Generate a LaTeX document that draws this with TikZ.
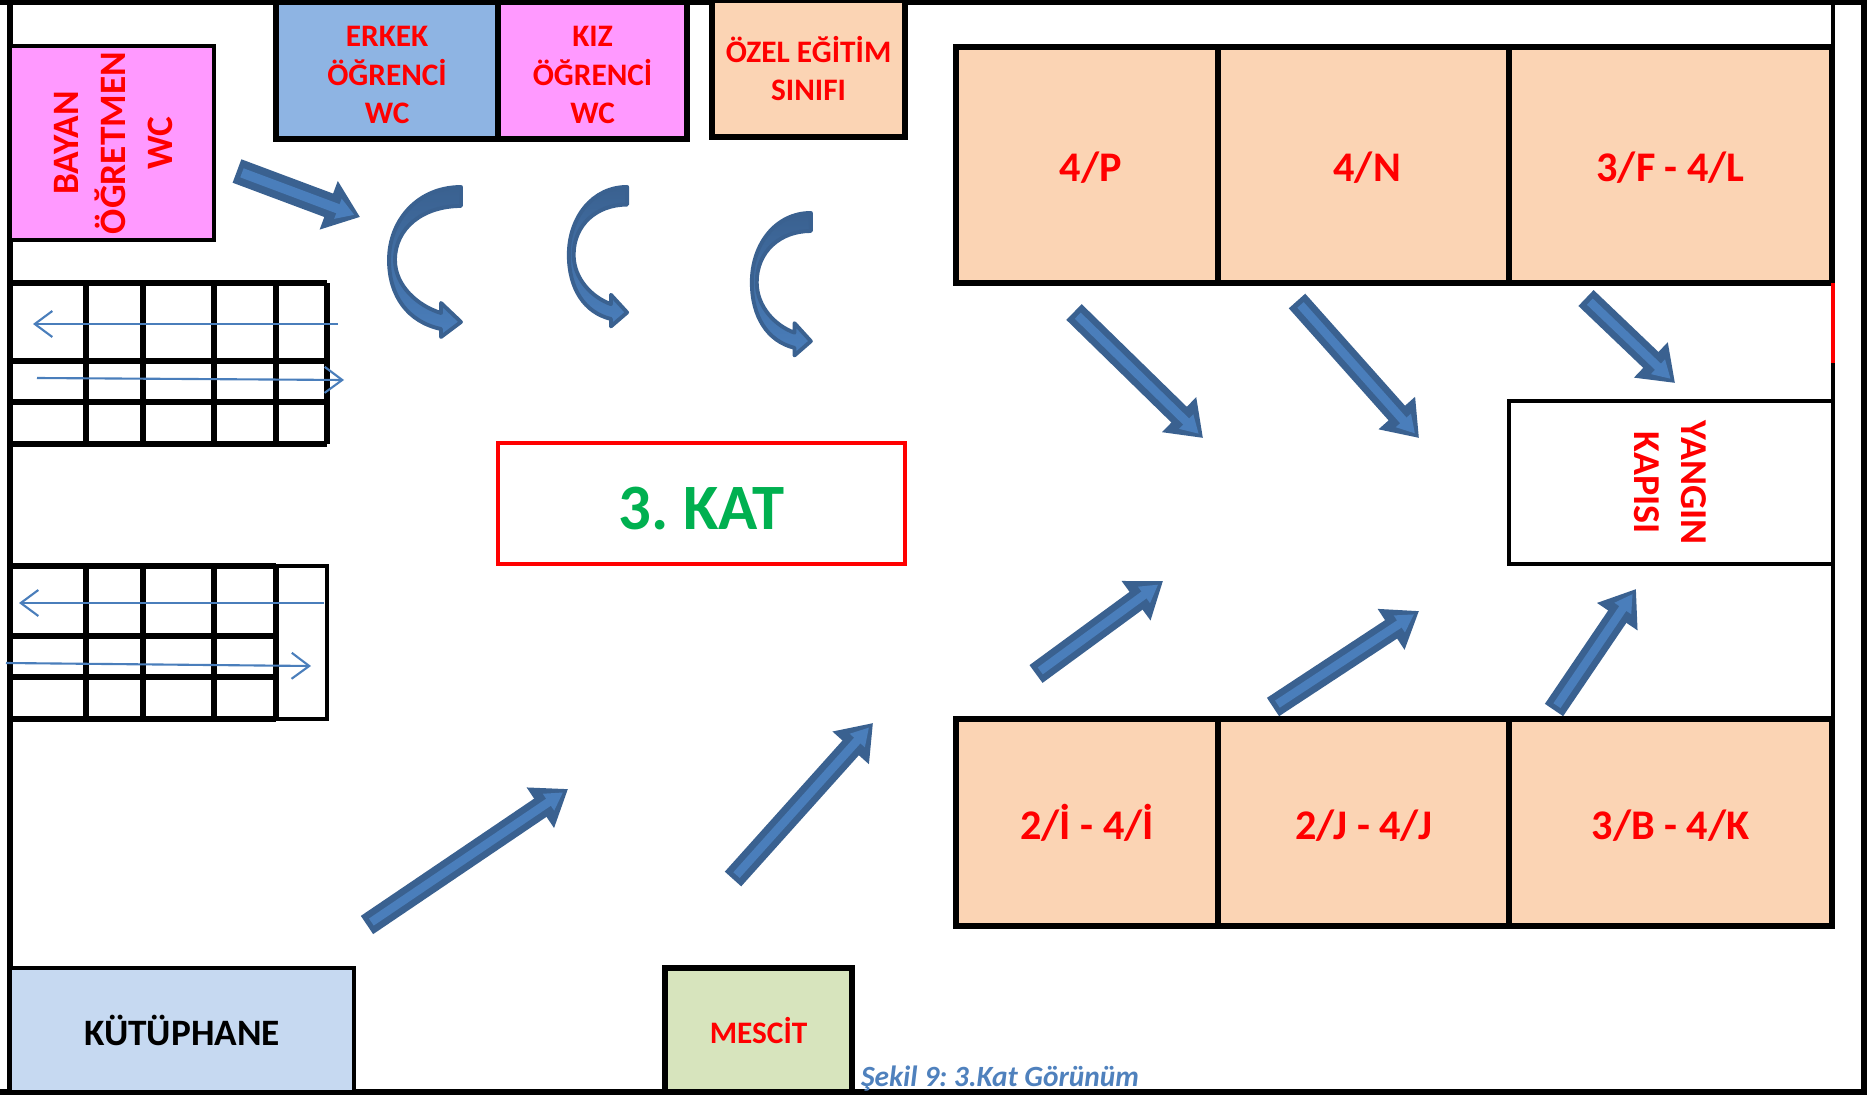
\documentclass[tikz,border=0pt]{standalone}
\usepackage{fontspec}
\setmainfont{Carlito}
\frenchspacing
\usetikzlibrary{arrows.meta,calc}

\definecolor{peach}{HTML}{FBD4B4}
\definecolor{pinkwc}{HTML}{FF99FF}
\definecolor{bluewc}{HTML}{8EB4E3}
\definecolor{libblue}{HTML}{C6D9F1}
\definecolor{prayergreen}{HTML}{D7E4BD}
\definecolor{arrowdark}{HTML}{3A6190}
\definecolor{arrowfill}{HTML}{4A7EBB}
\definecolor{kattext}{HTML}{00B050}
\definecolor{captiontext}{HTML}{4F81BD}

% Thick block arrow: width of shaft, start, tip
\newcommand{\blockarrow}[3][22]{
    \draw[line width=#1*0.2845pt, draw=arrowdark, -{Triangle[length=9.5pt, width=#1*0.2845pt+7pt]}] #2 -- #3;
    \draw[line width=#1*0.11pt, draw=arrowfill, shorten <=1.5pt, shorten >=1.7pt, -{Triangle[length=5pt, width=#1*0.11pt+3pt]}] #2 -- #3;
}
% U-turn arrow: left, top, xscale, yscale
\newcommand{\turnarrow}[4]{
    \begin{scope}[shift={(#1,#2)}, xscale=#3, yscale=#4]
        \draw[line width=1.1pt, line join=round, draw=arrowdark, top color=arrowdark, bottom color=arrowfill]
            (73,1) .. controls (30,1) and (1,34) .. (1,74)
            .. controls (1,110) and (20,136) .. (53,143)
            -- (53,151) -- (73,136) -- (53,117) -- (53,127)
            .. controls (30,120) and (7,100) .. (7,74)
            .. controls (7,42) and (35,20) .. (73,20) -- cycle;
    \end{scope}
}

\begin{document}
\begin{tikzpicture}[x=0.01cm, y=-0.01cm]
    \tikzset{
        room/.style={
            draw=black,
            line width=1.7pt,
            inner sep=0pt,
            outer sep=0pt,
            anchor=north west,
            text=red,
            align=center,
            font=\fontsize{12}{15}\selectfont\bfseries
        },
        smallroom/.style={
            room,
            font=\fontsize{8.9}{10.9}\selectfont\bfseries
        },
        textdrop/.style={
            execute at begin node={\rule{0pt}{#1}}
        },
        wall/.style={
            line width=1.7pt
        },
        stairline/.style={
            line width=1.7pt
        },
        flow/.style={
            draw=arrowfill,
            line width=0.6pt,
            -{Straight Barb[length=5pt, width=7.4pt]}
        }
    }
    \useasboundingbox (0,0) rectangle (1867,1094);

    % Outer walls
    \draw[wall] (10,0) -- (10,1094);
    \draw[wall] (0,2) -- (1867,2);
    \draw[wall] (0,1092) -- (1867,1092);
    \draw[wall] (1864,0) -- (1864,1094);
    \draw[line width=1.1pt] (1833,0) -- (1833,719);

    % Wash rooms and special class
    \node[smallroom, fill=pinkwc, line width=1pt, minimum width=2.04cm, minimum height=1.94cm,
        font=\fontsize{10.6}{13.3}\selectfont\bfseries] (bayan) at (10,46) {\hspace{2.4pt}\rotatebox{90}{\begin{tabular}{@{}c@{}}BAYAN\\ÖĞRETMEN\\WC\end{tabular}}};
    \node[smallroom, fill=bluewc, minimum width=2.22cm, minimum height=1.37cm] (erkek) at (276,2) {\rule{0pt}{0.95em}ERKEK\\ÖĞRENCİ\\WC};
    \node[smallroom, fill=pinkwc, minimum width=1.89cm, minimum height=1.37cm] (kiz) at (498,2) {\rule{0pt}{0.95em}KIZ\\ÖĞRENCİ\\WC};
    \node[smallroom, fill=peach, minimum width=1.93cm, minimum height=1.37cm] (ozel) at (712,0) {\rule{0pt}{0.85em}ÖZEL EĞİTİM\\SINIFI};

    % Class rooms
    \foreach \nm/\x/\w/\txt in {p/956/2.62/{\hspace*{2pt}4/P}, n/1218/2.91/{\hspace*{2pt}4/N}, fl/1509/3.23/{3/F - 4/L}}
        \node[room, textdrop=0.84em, fill=peach, minimum width=\w cm, minimum height=2.36cm] (\nm) at (\x,47) {\txt};
    \foreach \nm/\x/\w/\txt in {i/956/2.62/{2/İ - 4/İ}, j/1218/2.91/{2/J - 4/J}, bk/1509/3.23/{3/B - 4/K}}
        \node[room, textdrop=0.84em, fill=peach, minimum width=\w cm, minimum height=2.07cm] (\nm) at (\x,719) {\txt};

    % Fire door
    \node[smallroom, line width=1pt, minimum width=3.24cm, minimum height=1.63cm,
        font=\fontsize{10.8}{13.3}\selectfont\bfseries] (yangin) at (1509,401) {\rotatebox{-90}{\begin{tabular}{@{}c@{}}YANGIN\\KAPISI\end{tabular}}\hspace{2pt}};
    \coordinate (redend) at (1833,363);
    \draw[red, line width=1.1pt] (redend |- fl.south) -- (redend);

    % Floor label
    \node[room, textdrop=0.82em, draw=red, line width=1pt, minimum width=4.07cm, minimum height=1.21cm, text=kattext,
        font=\fontsize{18.4}{22}\selectfont\bfseries] (kat) at (498,443) {3. KAT};

    % Library and prayer room
    \node[room, textdrop=0.72em, fill=libblue, text=black, line width=1pt, minimum width=3.44cm, minimum height=1.24cm,
        font=\fontsize{10.6}{13}\selectfont\bfseries] (kutuphane) at (10,968) {KÜTÜPHANE};
    \node[smallroom, textdrop=0.8em, fill=prayergreen, minimum width=1.87cm, minimum height=1.24cm] (mescit) at (665,968) {MESCİT};

    % Upper stairs
    \foreach \y in {283,361,402,444}
        \draw[stairline] (10,\y) -- (327,\y);
    \foreach \x in {86,143,214,276,327}
        \draw[stairline] (\x,283) -- (\x,444);
    \draw[flow] (338,324) -- (33,324);
    \draw[flow] (37,378) -- (344,380);

    % Lower stairs
    \foreach \y in {566,636,677,719}
        \draw[stairline] (10,\y) -- (276,\y);
    \foreach \x in {86,143,214,276}
        \draw[stairline] (\x,566) -- (\x,719);
    \draw[line width=1pt] (276,566) -- (327,566) -- (327,719) -- (276,719);
    \draw[flow] (324,603) -- (19,603);
    \draw[flow] (6,663) -- (311,666);

    % Block arrows
    \blockarrow[25]{(237,171)}{(360,217)}
    \blockarrow{(1074,312)}{(1203,438)}
    \blockarrow{(1297,301)}{(1419,438)}
    \blockarrow{(1586,298)}{(1675,383)}
    \blockarrow{(1036,674)}{(1163,581)}
    \blockarrow{(1273,707)}{(1419,611)}
    \blockarrow{(1554,710)}{(1636,589)}
    \blockarrow{(367,925)}{(568,789)}
    \blockarrow{(733,879)}{(873,723)}

    % Turning arrows
    \turnarrow{388}{186}{1}{1}
    \turnarrow{568}{186}{0.81}{0.93}
    \turnarrow{751}{212}{0.82}{0.95}

    % Caption
    \node[anchor=base west, inner sep=0pt, outer sep=0pt, text=captiontext, font=\fontsize{8.35}{10}\selectfont\bfseries\itshape] (caption) at (861,1086) {Şekil 9: 3.Kat Görünüm};
\end{tikzpicture}
\end{document}
